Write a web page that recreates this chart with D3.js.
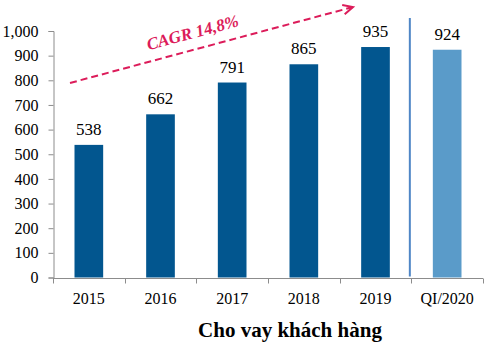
<!DOCTYPE html>
<html>
<head>
<meta charset="utf-8">
<script src="https://cdn.jsdelivr.net/npm/d3@7"></script>
<style>
  body { margin: 0; background: #fff; }
</style>
</head>
<body>
<svg id="chart" width="488" height="344" font-family="Liberation Serif, serif"></svg>
<script>
'use strict';

// data
const categories = ["2015", "2016", "2017", "2018", "2019", "QI/2020"];
const values = [538, 662, 791, 865, 935, 924];
const yTicks = [0, 100, 200, 300, 400, 500, 600, 700, 800, 900, 1000];
const chartTitle = "Cho vay khách hàng";
const cagrLabel = "CAGR 14,8%";

const SERIF = "Liberation Serif, serif";
const COLORS = { year: "#02568f", quarter: "#5a9bc9", axis: "#8c8c8c", accent: "#dc1c5a", divider: "#4f86c6" };
const MARGIN = { top: 31, left: 53, right: 5, bottom: 66 };
const W = 488, H = 344;

const svg = d3.select("#chart");

const x = d3.scaleBand()
    .domain(categories)
    .range([MARGIN.left, W - MARGIN.right])
    .paddingInner(0.6)
    .paddingOuter(0.3);

const y = d3.scaleLinear()
    .domain([0, 1000])
    .range([H - MARGIN.bottom - 0.5, MARGIN.top]);

// bars
svg.append("g")
    .selectAll("rect")
    .data(values)
    .join("rect")
    .attr("x", (d, i) => x(categories[i]))
    .attr("y", d => y(d))
    .attr("width", x.bandwidth())
    .attr("height", d => y(0) - y(d))
    .attr("fill", (d, i) => i === categories.length - 1 ? COLORS.quarter : COLORS.year);

// value labels
svg.append("g")
    .selectAll("text")
    .data(values)
    .join("text")
    .attr("x", (d, i) => x(categories[i]) + x.bandwidth() / 2)
    .attr("y", d => y(d) - 10)
    .attr("text-anchor", "middle")
    .attr("font-family", SERIF)
    .attr("font-size", 17)
    .text(d => d3.format(",")(d));

// y axis
const yAxis = svg.append("g")
    .attr("transform", `translate(${MARGIN.left + 0.5},0)`)
    .call(d3.axisLeft(y).tickValues(yTicks).tickSize(5).tickPadding(10).tickFormat(d3.format(",")));
yAxis.select(".domain").attr("stroke", COLORS.axis);
yAxis.selectAll(".tick line").attr("stroke", COLORS.axis);
yAxis.selectAll(".tick text")
    .attr("font-family", SERIF)
    .attr("font-size", 16)
    .attr("fill", "#000");

// x axis: line with ticks at band boundaries
const step = x.step();
const x0 = MARGIN.left;
const xAxisG = svg.append("g").attr("transform", `translate(0,${Math.round(y(0)) + 0.5})`);
xAxisG.append("line")
    .attr("x1", x0).attr("x2", W - MARGIN.right)
    .attr("stroke", COLORS.axis);
xAxisG.selectAll("line.tick")
    .data(d3.range(categories.length + 1))
    .join("line")
    .attr("class", "tick")
    .attr("x1", i => Math.round(x0 + i * step) + 0.5)
    .attr("x2", i => Math.round(x0 + i * step) + 0.5)
    .attr("y1", 0).attr("y2", 5)
    .attr("stroke", COLORS.axis);
xAxisG.selectAll("text")
    .data(categories)
    .join("text")
    .attr("x", d => x(d) + x.bandwidth() / 2)
    .attr("y", 25)
    .attr("text-anchor", "middle")
    .attr("font-family", SERIF)
    .attr("font-size", 16)
    .text(d => d);

// divider between annual and quarterly data
const divX = x0 + 5 * step - 1.5;
svg.append("line")
    .attr("x1", divX).attr("x2", divX)
    .attr("y1", 18).attr("y2", y(0) - 1)
    .attr("stroke", COLORS.divider)
    .attr("stroke-width", 2);

// CAGR arrow
const arrow = { x1: 70, y1: 83, x2: 353, y2: 7 };
const ang = Math.atan2(arrow.y2 - arrow.y1, arrow.x2 - arrow.x1);
svg.append("line")
    .attr("x1", arrow.x1).attr("y1", arrow.y1)
    .attr("x2", arrow.x2).attr("y2", arrow.y2)
    .attr("stroke", COLORS.accent)
    .attr("stroke-width", 2)
    .attr("stroke-dasharray", "7,4");
const head = 11;
svg.append("path")
    .attr("d", d3.line()([
        [arrow.x2 - head * Math.cos(ang - 0.45), arrow.y2 - head * Math.sin(ang - 0.45)],
        [arrow.x2, arrow.y2],
        [arrow.x2 - head * Math.cos(ang + 0.45), arrow.y2 - head * Math.sin(ang + 0.45)]
    ]))
    .attr("fill", "none")
    .attr("stroke", COLORS.accent)
    .attr("stroke-width", 2);

svg.append("text")
    .attr("transform", `translate(194,38) rotate(${ang * 180 / Math.PI})`)
    .attr("text-anchor", "middle")
    .attr("font-family", SERIF)
    .attr("font-size", 17)
    .attr("font-weight", "bold")
    .attr("font-style", "italic")
    .attr("fill", COLORS.accent)
    .text(cagrLabel);

// title
svg.append("text")
    .attr("x", 290)
    .attr("y", 337)
    .attr("text-anchor", "middle")
    .attr("font-family", SERIF)
    .attr("font-size", 21)
    .attr("font-weight", "bold")
    .text(chartTitle);
</script>
</body>
</html>
